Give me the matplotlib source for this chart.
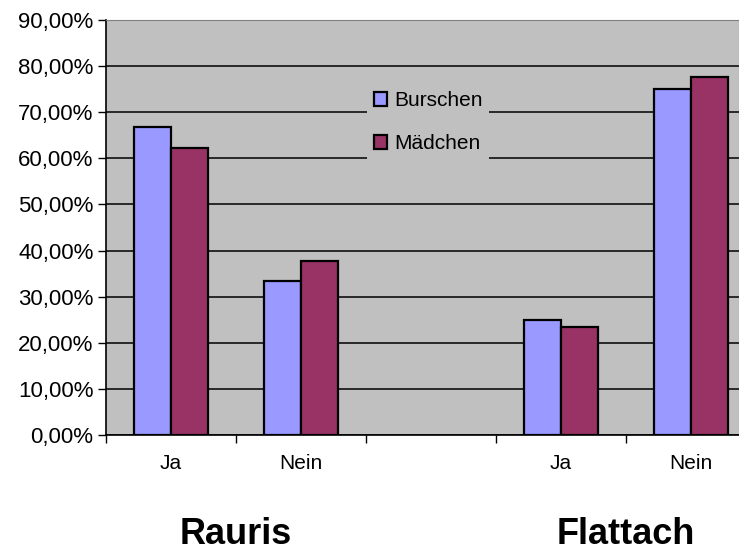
import numpy as np
import matplotlib
matplotlib.use("Agg")
import matplotlib.pyplot as plt
from matplotlib.ticker import FuncFormatter, FixedLocator
import matplotlib.transforms as mtransforms

plt.rcParams['font.family'] = ['Liberation Sans', 'DejaVu Sans']

CATEGORIES = ["Ja", "Nein", "", "Ja", "Nein"]
BURSCHEN = [66.7, 33.3, np.nan, 25.0, 75.0]
MAEDCHEN = [62.2, 37.8, np.nan, 23.5, 77.6]
GROUPS = ["Rauris", "Flattach"]
GROUP_POS = [0.5, 3.5]
SERIES_NAMES = ["Burschen", "Mädchen"]


def pct(v, pos):
    return f"{v:.2f}".replace(".", ",") + "%"


fig = plt.figure(figsize=(7.39, 5.57), dpi=100)
ax = fig.add_axes([106 / 739, 1 - 435 / 557, 633 / 739, 415 / 557])
ax.set_facecolor("#C0C0C0")

x = np.arange(len(CATEGORIES))
w = 0.285
ax.bar(x - w / 2, BURSCHEN, w, color="#9999FF", edgecolor="black", linewidth=1.6,
       label=SERIES_NAMES[0], zorder=3)
ax.bar(x + w / 2, MAEDCHEN, w, color="#993366", edgecolor="black", linewidth=1.6,
       label=SERIES_NAMES[1], zorder=3)

ax.set_ylim(0, 90)
ax.set_xlim(-0.5, -0.5 + 633 / 130)
ax.set_yticks(np.arange(0, 91, 10))
ax.yaxis.set_major_formatter(FuncFormatter(pct))
ax.yaxis.grid(True, color="black", linewidth=1.1, zorder=1)
ax.set_axisbelow(True)

ax.xaxis.set_major_locator(FixedLocator([-0.5, 0.5, 1.5, 2.5, 3.5]))
ax.xaxis.set_major_formatter(FuncFormatter(lambda v, p: ""))
ax.xaxis.set_minor_locator(FixedLocator(x))
ax.set_xticklabels(CATEGORIES, minor=True)
ax.tick_params(axis="x", which="minor", length=0, pad=14, labelsize=15)
ax.tick_params(axis="x", which="major", length=6, width=1, direction="out")
ax.tick_params(axis="y", length=6, width=1, labelsize=16, pad=3)

for s in ["top", "right"]:
    ax.spines[s].set_color("#808080")
ax.spines["left"].set_linewidth(1.2)
ax.spines["bottom"].set_linewidth(1.2)

leg = ax.legend(loc="center", bbox_to_anchor=(0.509, 0.754), fontsize=15,
                frameon=True, facecolor="#C0C0C0", edgecolor="none", framealpha=1,
                handlelength=0.65, handleheight=0.65, handletextpad=0.35,
                labelspacing=1.15, borderpad=0.3, fancybox=False)

trans = mtransforms.blended_transform_factory(ax.transData, fig.transFigure)
for name, pos in zip(GROUPS, GROUP_POS):
    ax.text(pos, 1 - 535 / 557, name, transform=trans, ha="center", va="center",
            fontsize=26, fontweight="bold", clip_on=False)

fig.savefig("out.png", dpi=100)
